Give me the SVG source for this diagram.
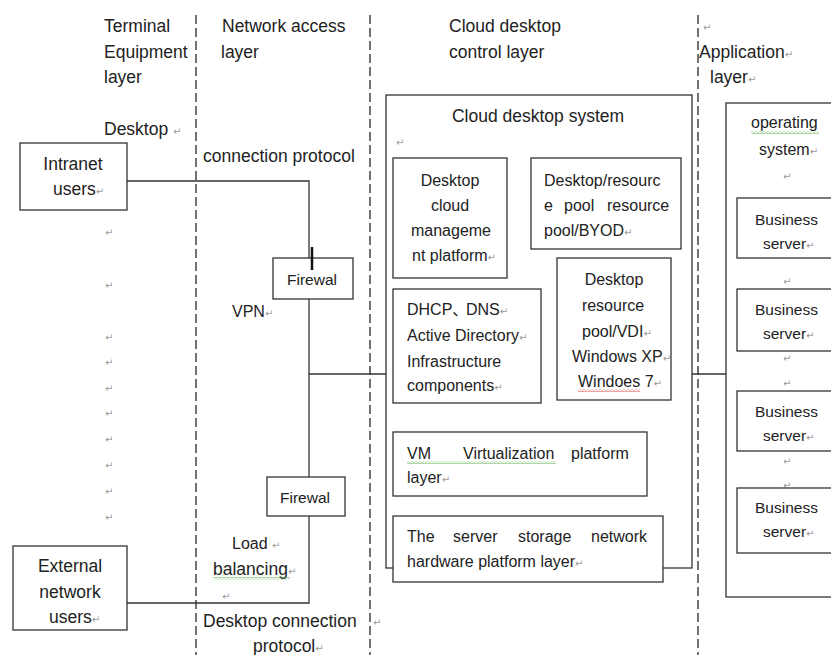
<svg xmlns="http://www.w3.org/2000/svg" width="831" height="655" viewBox="0 0 831 655">
<defs>
<style>
text{font-family:"Liberation Sans","Noto Sans CJK SC",Arial,sans-serif;font-size:17.5px;fill:#222}
.s{font-size:16px}
.b{font-size:15.5px}
.m{text-anchor:middle}
.pm{font-family:"DejaVu Sans",sans-serif;font-size:10px;fill:#9a9a9a}
.box{fill:#fff;stroke:#333;stroke-width:1.3}
.dash{stroke:#444;stroke-width:1.5;stroke-dasharray:9 4;fill:none}
.conn{stroke:#333;stroke-width:1.3;fill:none}
</style>
<pattern id="wg" width="4" height="3" patternUnits="userSpaceOnUse"><path d="M0,2.3 L2,0.7 L4,2.3" fill="none" stroke="#55aa44" stroke-width="0.8"/></pattern>
<pattern id="wr" width="4" height="3" patternUnits="userSpaceOnUse"><path d="M0,2.3 L2,0.7 L4,2.3" fill="none" stroke="#e04040" stroke-width="0.8"/></pattern>
</defs>
<rect width="831" height="655" fill="#fff"/>

<g id="layer-dividers">
<line class="dash" x1="196" y1="15" x2="196" y2="655"/>
<line class="dash" x1="370" y1="15" x2="370" y2="655"/>
<line class="dash" x1="698" y1="15" x2="698" y2="655"/>
</g>

<g id="layer-titles">
<text x="104" y="32">Terminal</text>
<text x="104" y="58">Equipment</text>
<text x="104" y="83">layer</text>
<text x="222" y="32">Network access</text>
<text x="221" y="58">layer</text>
<text x="449" y="32">Cloud desktop</text>
<text x="449" y="58">control layer</text>
<text class="pm" x="703" y="31">↵</text>
<text x="699" y="58">Application<tspan class="pm">↵</tspan></text>
<text x="710" y="83">layer<tspan class="pm">↵</tspan></text>
</g>

<g id="connectors">
<polyline class="conn" points="127,181 309,181 309,258"/>
<line class="conn" x1="309" y1="299" x2="309" y2="477"/>
<line class="conn" x1="309" y1="374" x2="386" y2="374"/>
<polyline class="conn" points="309,516 309,603 127,603"/>
<line class="conn" x1="692" y1="374" x2="726" y2="374"/>
</g>

<g id="labels">
<text x="104" y="135">Desktop <tspan class="pm">↵</tspan></text>
<text x="203" y="162">connection protocol</text>
<text class="s" x="232" y="317">VPN<tspan class="pm">↵</tspan></text>
<text class="s" x="232" y="549">Load <tspan class="pm">↵</tspan></text>
<text x="213" y="575">balancing<tspan class="pm">↵</tspan></text>
<rect x="213" y="577" width="77" height="3" fill="url(#wg)"/>
<text class="pm" x="222" y="600">↵</text>
<text x="203" y="627">Desktop connection</text>
<text class="pm" x="373" y="626">↵</text>
<text x="253" y="652">protocol<tspan class="pm">↵</tspan></text>
<text class="pm" x="105" y="236">↵</text>
<text class="pm" x="105" y="289">↵</text>
<text class="pm" x="105" y="341">↵</text>
<text class="pm" x="105" y="366">↵</text>
<text class="pm" x="105" y="392">↵</text>
<text class="pm" x="105" y="417">↵</text>
<text class="pm" x="105" y="443">↵</text>
<text class="pm" x="105" y="469">↵</text>
<text class="pm" x="105" y="495">↵</text>
<text class="pm" x="105" y="521">↵</text>
</g>

<g id="intranet-users">
<rect class="box" x="20" y="143" width="107" height="67"/>
<text class="m" x="73" y="170">Intranet</text>
<text x="53" y="195">users<tspan class="pm">↵</tspan></text>
</g>

<g id="external-users">
<rect class="box" x="13" y="546" width="114" height="84"/>
<text class="m" x="70" y="572">External</text>
<text class="m" x="70" y="598">network</text>
<text x="49" y="623">users<tspan class="pm">↵</tspan></text>
</g>

<g id="firewall-1">
<rect class="box" x="273" y="258" width="80" height="41"/>
<text class="b m" x="312" y="285">Firewal</text>
<line x1="312" y1="247" x2="312" y2="270" stroke="#111" stroke-width="2.5"/>
</g>

<g id="firewall-2">
<rect class="box" x="267" y="477" width="78" height="39"/>
<text class="b m" x="305" y="503">Firewal</text>
</g>

<g id="cloud-desktop-system">
<rect class="box" x="386" y="95" width="306" height="473"/>
<text class="m" x="538" y="122">Cloud desktop system</text>
<text class="pm" x="396" y="146">↵</text>
</g>

<g id="desktop-cloud-management">
<rect class="box" x="393" y="158" width="114" height="120"/>
<text class="s m" x="450" y="186">Desktop</text>
<text class="s m" x="450" y="211">cloud</text>
<text class="s m" x="451" y="236">manageme</text>
<text class="s" x="412" y="261">nt platform<tspan class="pm">↵</tspan></text>
</g>

<g id="resource-pool-byod">
<rect class="box" x="531" y="158" width="150" height="91"/>
<text class="s" x="544" y="186">Desktop/resourc</text>
<text class="s" x="544" y="211">e</text>
<text class="s" x="564" y="211">pool</text>
<text class="s" x="607" y="211">resource</text>
<text class="s" x="544" y="236">pool/BYOD<tspan class="pm">↵</tspan></text>
</g>

<g id="resource-pool-vdi">
<rect class="box" x="557" y="258" width="114" height="142"/>
<text class="s m" x="614" y="285">Desktop</text>
<text class="s m" x="613" y="311">resource</text>
<text class="s" x="582" y="337">pool/VDI<tspan class="pm">↵</tspan></text>
<text class="s" x="572" y="362">Windows XP<tspan class="pm">↵</tspan></text>
<text class="s" x="578" y="387">Windoes 7<tspan class="pm">↵</tspan></text>
<rect x="578" y="389" width="62" height="3" fill="url(#wr)"/>
</g>

<g id="infrastructure">
<rect class="box" x="393" y="289" width="148" height="114"/>
<text class="s" x="407" y="315">DHCP、</text>
<text class="s" x="466" y="315">DNS<tspan class="pm">↵</tspan></text>
<text class="s" x="407" y="341">Active Directory<tspan class="pm">↵</tspan></text>
<text class="s" x="407" y="367">Infrastructure</text>
<text class="s" x="407" y="391">components<tspan class="pm">↵</tspan></text>
</g>

<g id="vm-platform">
<rect class="box" x="393" y="432" width="254" height="64"/>
<text class="s" x="407" y="459">VM</text>
<text class="s" x="463" y="459">Virtualization</text>
<text class="s" x="571" y="459">platform</text>
<rect x="407" y="461" width="149" height="3" fill="url(#wg)"/>
<text class="s" x="407" y="483">layer<tspan class="pm">↵</tspan></text>
</g>

<g id="hardware-platform">
<rect class="box" x="393" y="516" width="270" height="66"/>
<text class="s" x="407" y="542">The</text>
<text class="s" x="453" y="542">server</text>
<text class="s" x="518" y="542">storage</text>
<text class="s" x="591" y="542">network</text>
<text class="s" x="407" y="567">hardware platform layer<tspan class="pm">↵</tspan></text>
</g>

<g id="operating-system">
<rect class="box" x="726" y="103" width="120" height="494"/>
<text class="s" x="751" y="128">operating</text>
<rect x="751" y="131" width="68" height="3" fill="url(#wg)"/>
<text class="s" x="759" y="155">system<tspan class="pm">↵</tspan></text>
<text class="pm" x="783" y="180">↵</text>
<text class="pm" x="783" y="285">↵</text>
<text class="pm" x="783" y="362">↵</text>
<text class="pm" x="783" y="387">↵</text>
<text class="pm" x="783" y="465">↵</text>
<text class="pm" x="783" y="489">↵</text>
</g>

<g id="business-server-1">
<rect class="box" x="737" y="198" width="110" height="60"/>
<text class="b" x="755" y="225">Business</text>
<text class="b" x="763" y="249">server<tspan class="pm">↵</tspan></text>
</g>
<g id="business-server-2">
<rect class="box" x="737" y="289" width="110" height="62"/>
<text class="b" x="755" y="315">Business</text>
<text class="b" x="763" y="339">server<tspan class="pm">↵</tspan></text>
</g>
<g id="business-server-3">
<rect class="box" x="737" y="391" width="110" height="60"/>
<text class="b" x="755" y="417">Business</text>
<text class="b" x="763" y="441">server<tspan class="pm">↵</tspan></text>
</g>
<g id="business-server-4">
<rect class="box" x="737" y="488" width="110" height="65"/>
<text class="b" x="755" y="513">Business</text>
<text class="b" x="763" y="537">server<tspan class="pm">↵</tspan></text>
</g>
</svg>
